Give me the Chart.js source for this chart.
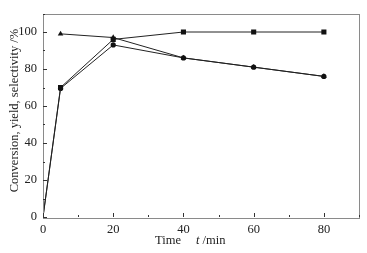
<!DOCTYPE html>
<html>
<head>
<meta charset="utf-8">
<script src="https://cdn.jsdelivr.net/npm/chart.js@4"></script>
<style>
html,body{margin:0;padding:0;background:#fff;}
#wrap{width:367px;height:253px;}
</style>
</head>
<body>
<div id="wrap"><canvas id="c" width="367" height="253"></canvas></div>
<script>
const times = [0, 5, 20, 40, 60, 80];
const conversion = [0, 70, 96, 100, 100, 100];
const yieldValues = [0, 69.5, 93, 86, 81, 76];
const selTimes = [5, 20, 40, 60, 80];
const selectivity = [99, 97, 86, 81, 76];
const xTicks = [0, 20, 40, 60, 80];
const yTicks = [0, 20, 40, 60, 80, 100];
const yTitle = 'Conversion, yield, selectivity /%';
const xTitleParts = ['Time', 't', ' /min'];

const FONT = '"Liberation Serif", "Times New Roman", serif';
const pts = (xs, ys) => xs.map((x, i) => ({x: x, y: ys[i]}));

const framePlugin = {
  id: 'frame',
  afterDraw(chart) {
    const {ctx, chartArea: a, scales} = chart;
    const x = scales.x, y = scales.y;
    ctx.save();
    ctx.strokeStyle = '#8a8a8a';
    ctx.lineWidth = 1;
    ctx.strokeRect(Math.round(a.left) + 0.5, Math.round(a.top) + 0.5, Math.round(a.right - a.left), Math.round(a.bottom - a.top));
    ctx.strokeStyle = '#333';
    ctx.beginPath();
    for (let v = 0; v <= 90; v += 10) {
      const px = Math.round(x.getPixelForValue(v)) + 0.5;
      const len = v % 20 === 0 ? 4 : 2;
      ctx.moveTo(px, a.bottom);
      ctx.lineTo(px, a.bottom - len);
    }
    for (let v = 0; v <= 110; v += 10) {
      const py = Math.round(y.getPixelForValue(v)) + 0.5;
      const len = v % 20 === 0 ? 4 : 2;
      ctx.moveTo(a.left, py);
      ctx.lineTo(a.left + len, py);
    }
    ctx.stroke();
    // titles
    ctx.fillStyle = '#222';
    ctx.font = '12.5px ' + FONT;
    ctx.textBaseline = 'middle';
    ctx.save();
    ctx.translate(14.5, 110.5);
    ctx.rotate(-Math.PI / 2);
    ctx.textAlign = 'center';
    ctx.fillText(yTitle, 0, 0);
    ctx.restore();
    ctx.textAlign = 'left';
    let tx = 155;
    const ty = 241;
    ctx.font = '12.5px ' + FONT;
    ctx.fillText(xTitleParts[0], tx, ty);
    tx += ctx.measureText(xTitleParts[0]).width + 15;
    ctx.font = 'italic 12.5px ' + FONT;
    ctx.fillText(xTitleParts[1], tx, ty);
    tx += ctx.measureText(xTitleParts[1]).width;
    ctx.font = '12.5px ' + FONT;
    ctx.fillText(xTitleParts[2], tx, ty);
    ctx.restore();
  }
};

const lineCol = '#222';
new Chart(document.getElementById('c'), {
  type: 'line',
  data: {
    datasets: [
      {label: 'Conversion', data: pts(times, conversion), borderColor: lineCol, backgroundColor: '#111',
       pointStyle: 'rect', pointRadius: c => (c.raw && c.raw.x === 0 ? 1 : 3.6), borderWidth: 1, pointBorderWidth: 0},
      {label: 'Yield', data: pts(times, yieldValues), borderColor: lineCol, backgroundColor: '#111',
       pointStyle: 'circle', pointRadius: c => (c.raw && c.raw.x === 0 ? 1 : 2.6), borderWidth: 1, pointBorderWidth: 0},
      {label: 'Selectivity', data: pts(selTimes, selectivity), borderColor: lineCol, backgroundColor: '#111',
       pointStyle: 'triangle', pointRadius: 3.2, borderWidth: 1, pointBorderWidth: 0}
    ]
  },
  options: {
    responsive: false,
    animation: false,
    devicePixelRatio: 1,
    layout: {padding: {top: 10, right: 8, left: 0, bottom: 0}},
    plugins: {legend: {display: false}, tooltip: {enabled: false}},
    elements: {line: {tension: 0}},
    scales: {
      x: {
        type: 'linear', min: 0, max: 90,
        grid: {display: false, drawTicks: false, tickLength: 0},
        border: {display: false},
        afterFit: s => { s.height = 36; },
        afterBuildTicks: s => { s.ticks = xTicks.map(v => ({value: v})); },
        ticks: {padding: 5, color: '#222', font: {family: FONT, size: 12.5}, maxRotation: 0}
      },
      y: {
        type: 'linear', min: 0, max: 110,
        grid: {display: false, drawTicks: false, tickLength: 0},
        border: {display: false},
        afterFit: s => { s.width = 43; },
        afterBuildTicks: s => { s.ticks = yTicks.map(v => ({value: v})); },
        ticks: {padding: 6, color: '#222', font: {family: FONT, size: 12.5}}
      }
    }
  },
  plugins: [framePlugin]
});
</script>
</body>
</html>
